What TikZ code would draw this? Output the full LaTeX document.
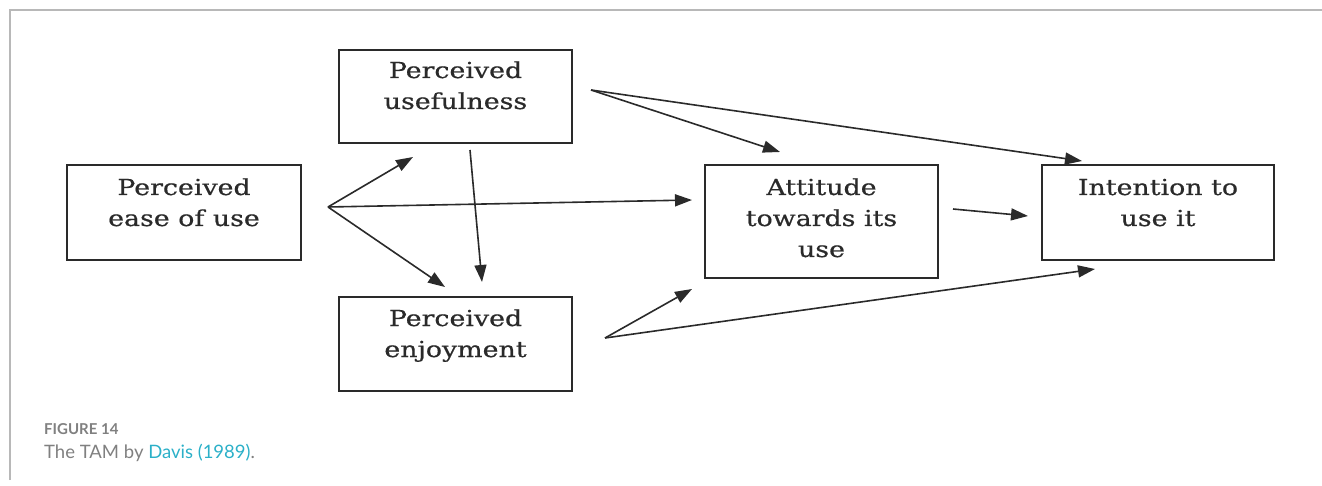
\documentclass[tikz,border=0pt]{standalone}
\usepackage{fontspec}
\usetikzlibrary{arrows.meta}
\newfontfamily\boxfont{DejaVu Serif}[FakeStretch=1.22,FakeBold=0.6]
\newfontfamily\capfont{Lato}
\definecolor{framegray}{HTML}{B8B8B8}
\definecolor{capgray}{HTML}{808080}
\definecolor{linkteal}{HTML}{2BB0C8}
\definecolor{ink}{HTML}{2A2A2A}

\begin{document}
\begin{tikzpicture}[x=1pt,y=-1pt,
  box/.style={draw=ink, line width=2pt, inner sep=0pt, rectangle},
  boxtext/.style={font=\boxfont\fontsize{22}{31}\selectfont, text=ink,
    align=center, inner sep=0pt, anchor=base},
  twolines/.style={yshift=-62pt},
  threelines/.style={yshift=-93pt},
  link/.style={draw=ink, line width=1.6pt,
    -{Triangle[length=17pt, width=12pt]}}]
\useasboundingbox (0,0) rectangle (1322,486);

% panel frame
\draw[framegray, line width=2pt] (10,480) -- (10,10) -- (1322,10);

% construct boxes
\node[box, minimum width=234pt, minimum height=95pt]  (ease) at (184,212.5) {};
\node[box, minimum width=233pt, minimum height=93pt]  (useful) at (455.5,96.5) {};
\node[box, minimum width=233pt, minimum height=94pt]  (enjoy) at (455.5,344) {};
\node[box, minimum width=233pt, minimum height=113pt] (attit) at (821.5,221.5) {};
\node[box, minimum width=232pt, minimum height=95pt]  (intent) at (1158,212.5) {};

% labels: the base anchor is the baseline of the last line
\node[boxtext, twolines]   (easeT)   at (ease.north)   {Perceived\\ease of use};
\node[boxtext, twolines, yshift=2pt] (usefulT) at (useful.north) {Perceived\\usefulness};
\node[boxtext, twolines, yshift=1pt] (enjoyT)  at (enjoy.north)  {Perceived\\enjoyment};
\node[boxtext, threelines] (attitT)  at (attit.north)  {Attitude\\towards its\\use};
\node[boxtext, twolines]   (intentT) at (intent.north) {Intention to\\use it};

% arrow end points (arrows float between the boxes)
\coordinate (easeOut)   at (328,207);
\coordinate (usefulIn)  at (413,157);
\coordinate (attitInA)  at (692,200);
\coordinate (enjoyIn)   at (445,287);
\coordinate (usefulDn)  at (470,150);
\coordinate (enjoyTop)  at (482,282);
\coordinate (usefulOut) at (591,90);
\coordinate (attitInB)  at (780,152);
\coordinate (intentInA) at (1082,161);
\coordinate (enjoyOut)  at (605,338);
\coordinate (attitInC)  at (692,289);
\coordinate (intentInC) at (1095,269);
\coordinate (attitOut)  at (953,209);
\coordinate (intentInB) at (1028,216);

\draw[link] (easeOut) -- (usefulIn);
\draw[link] (easeOut) -- (attitInA);
\draw[link] (easeOut) -- (enjoyIn);
\draw[link] (usefulDn) -- (enjoyTop);
\draw[link] (usefulOut) -- (attitInB);
\draw[link] (usefulOut) -- (intentInA);
\draw[link] (enjoyOut) -- (attitInC);
\draw[link] (enjoyOut) -- (intentInC);
\draw[link] (attitOut) -- (intentInB);

% caption
\node[anchor=base west, inner sep=0pt, text=capgray,
  font=\capfont\bfseries\fontsize{15}{18}\selectfont] (figno) at (44,434) {FIGURE 14};
\node[anchor=base west, inner sep=0pt, text=capgray,
  font=\capfont\fontsize{18.5}{22}\selectfont] (figcap) at (44,458)
  {The TAM by \textcolor{linkteal}{Davis (1989)}.};
\end{tikzpicture}
\end{document}
